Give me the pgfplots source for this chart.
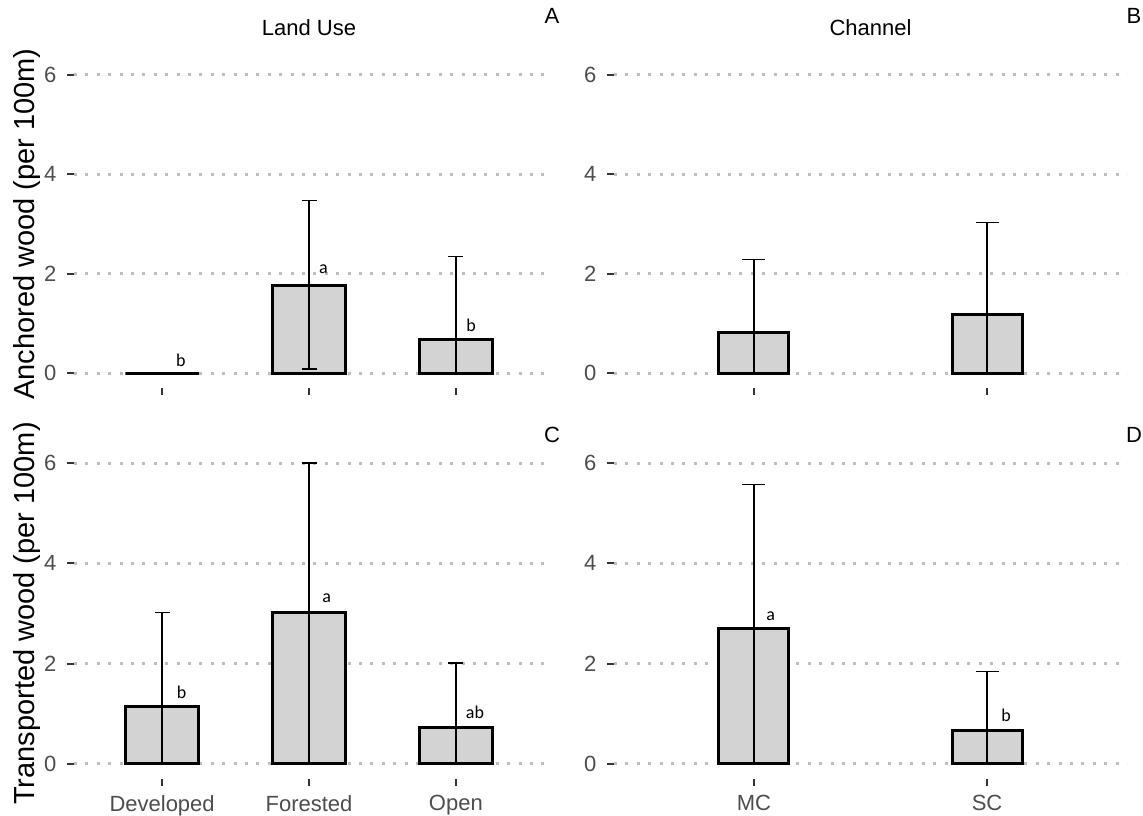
\documentclass[border=0pt]{standalone}
\usepackage{fontspec}
\setmainfont{Liberation Sans}
\newfontfamily\carlito{Carlito}
\usepackage{pgfplots}
\pgfplotsset{compat=1.18}
\definecolor{barfill}{HTML}{D3D3D3}
\definecolor{gridc}{HTML}{BEBEBE}
\definecolor{tickc}{HTML}{333333}
\definecolor{ticklab}{HTML}{4D4D4D}
\pgfplotsset{
  panel/.style={
    scale only axis,
    anchor=south west,
    ymin=-0.3, ymax=6.3,
    ytick={0,2,4,6},
    axis line style={draw=none},
    tick align=outside,
    xtick pos=left, ytick pos=left,
    major tick length=7pt,
    every tick/.append style={tickc, line width=2pt},
    major tick style={tickc, line width=2pt},
    ymajorgrids,
    grid style={gridc, line width=3pt, dash pattern=on 3pt off 8.4pt},
    minor tick num=0,
    tick label style={font=\fontsize{22}{26}\selectfont, text=ticklab},
    yticklabel style={xshift=-7pt},
    xticklabel style={yshift=-6pt},
    /pgf/number format/assume math mode=true,
    clip=false,
    title style={anchor=base, font=\fontsize{22}{26}\selectfont},
    ylabel style={anchor=base, font=\fontsize{29}{34}\selectfont},
  },
  bars/.style={ybar, bar width=#1, fill=barfill, draw=black, line width=3pt},
  errs/.style={error bars/.cd, y dir=both, y explicit,
    error bar style={line width=1.3pt, black},
    error mark options={rotate=90, mark size=#1, line width=1.3pt, black}},
}
\tikzset{
  lab/.style={anchor=base, font=\carlito\fontsize{18}{20}\selectfont, inner sep=0pt},
  plab/.style={anchor=base, font=\fontsize{22}{26}\selectfont, inner sep=0pt},
}
\begin{document}
\begin{tikzpicture}
\useasboundingbox (0,0) rectangle (1143pt,816pt);
% Panel A
\begin{axis}[panel, at={(74pt,428pt)}, width=470pt, height=328pt,
  xmin=-0.6, xmax=2.6, xtick={0,1,2}, xticklabels={},
  title={Land Use}, title style={at={(axis description cs:0.5,1.0549)}},
  ylabel={Anchored wood (per 100m)}, ylabel style={at={(axis description cs:-0.0851,0.5)}}]
\addplot[bars=0.5, errs=7.5pt] coordinates {
  (0,0) += (0,0) -= (0,0)
  (1,1.77) += (0,1.70) -= (0,1.69)
  (2,0.67) += (0,1.68) -= (0,0.67)};
\node[lab] at (axis cs:0.128,0.13) {b};
\node[lab] at (axis cs:1.099,2.00) {a};
\node[lab] at (axis cs:2.103,0.84) {b};
\node[plab] at (axis description cs:1.017,1.1098) {A};
\end{axis}
% Panel B
\begin{axis}[panel, at={(614pt,428pt)}, width=513pt, height=328pt,
  xmin=-0.6, xmax=1.6, xtick={0,1}, xticklabels={},
  title={Channel}, title style={at={(axis description cs:0.5,1.0549)}}]
\addplot[bars=0.3, errs=11.5pt] coordinates {
  (0,0.82) += (0,1.47) -= (0,0.82)
  (1,1.17) += (0,1.86) -= (0,1.17)};
\node[plab] at (axis description cs:1.0136,1.1098) {B};
\end{axis}
% Panel C
\begin{axis}[panel, at={(74pt,37pt)}, width=470pt, height=331pt,
  xmin=-0.6, xmax=2.6, xtick={0,1,2}, xticklabels={Developed,Forested,Open},
  ylabel={Transported wood (per 100m)}, ylabel style={at={(axis description cs:-0.0851,0.5)}}]
\addplot[bars=0.5, errs=7.5pt] coordinates {
  (0,1.14) += (0,1.88) -= (0,1.14)
  (1,3.01) += (0,2.99) -= (0,3.01)
  (2,0.72) += (0,1.29) -= (0,0.72)};
\node[lab] at (axis cs:0.132,1.30) {b};
\node[lab] at (axis cs:1.12,3.21) {a};
\node[lab] at (axis cs:2.13,0.91) {ab};
\node[plab] at (axis description cs:1.017,1.018) {C};
\end{axis}
% Panel D
\begin{axis}[panel, at={(614pt,37pt)}, width=513pt, height=331pt,
  xmin=-0.6, xmax=1.6, xtick={0,1}, xticklabels={MC,SC}]
\addplot[bars=0.3, errs=11.5pt] coordinates {
  (0,2.70) += (0,2.87) -= (0,2.70)
  (1,0.67) += (0,1.17) -= (0,0.67)};
\node[lab] at (axis cs:0.0715,2.86) {a};
\node[lab] at (axis cs:1.081,0.84) {b};
\node[plab] at (axis description cs:1.0136,1.018) {D};
\end{axis}
\end{tikzpicture}
\end{document}
